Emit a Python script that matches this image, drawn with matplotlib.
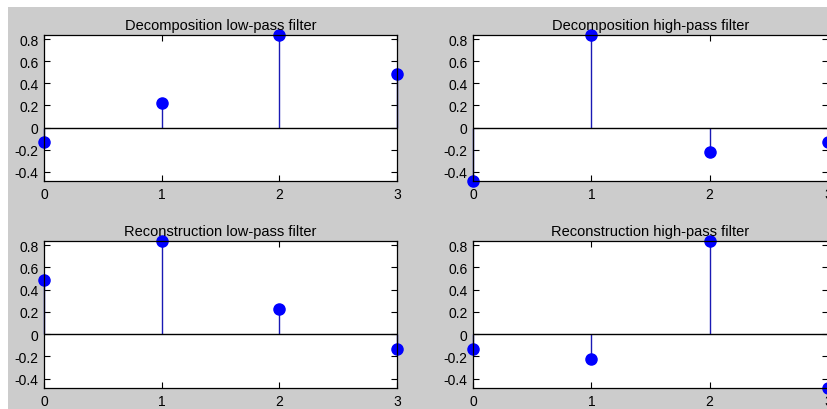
import matplotlib.pyplot as plt
from matplotlib.patches import Rectangle

plt.rcParams['font.family'] = ['Liberation Sans', 'DejaVu Sans']
plt.rcParams['axes.unicode_minus'] = False

# db2 wavelet filters
n = [0, 1, 2, 3]
lo_d = [-0.1294, 0.2241, 0.8365, 0.4830]
hi_d = [-0.4830, 0.8365, -0.2241, -0.1294]
lo_r = [0.4830, 0.8365, 0.2241, -0.1294]
hi_r = [-0.1294, -0.2241, 0.8365, -0.4830]

titles = ['Decomposition low-pass filter', 'Decomposition high-pass filter',
          'Reconstruction low-pass filter', 'Reconstruction high-pass filter']
yticks = [-0.4, -0.2, 0, 0.2, 0.4, 0.6, 0.8]
ytick_labels = ['-0.4', '-0.2', '0', '0.2', '0.4', '0.6', '0.8']

fig = plt.figure(figsize=(8.27, 4.10), dpi=100)
fig.patch.set_facecolor('white')
fig.add_artist(Rectangle((8 / 827, 0), 1, 1 - 8 / 410, transform=fig.transFigure,
                         facecolor='#cccccc', edgecolor='none', zorder=-10))

W, H = 827, 410
boxes = [(44, 36, 397, 182), (473, 36, 828, 182),
         (44, 242, 397, 389), (473, 242, 828, 389)]
series = [lo_d, hi_d, lo_r, hi_r]

for (x0, y0, x1, y1), vals, title in zip(boxes, series, titles):
    ax = fig.add_axes([x0 / W, 1 - y1 / H, (x1 - x0) / W, (y1 - y0) / H])
    ax.set_facecolor('white')
    markerline, stemlines, baseline = ax.stem(n, vals)
    markerline.set_color('#0000ff')
    markerline.set_markersize(8)
    markerline.set_clip_on(False)
    stemlines.set_color('#1a1ab4')
    stemlines.set_linewidth(1)
    stemlines.set_clip_on(False)
    baseline.set_color('black')
    baseline.set_linewidth(1)
    ax.set_xlim(0, 3)
    ax.set_ylim(-0.483, 0.8365)
    ax.set_xticks(n)
    ax.set_xticklabels([str(i) for i in n])
    ax.set_yticks(yticks)
    ax.set_yticklabels(ytick_labels)
    ax.tick_params(direction='in', length=4, width=0.8, top=True, right=True,
                   labelsize=10, pad=4, colors='black')
    for s in ax.spines.values():
        s.set_linewidth(0.9)
    ax.set_title(title, fontsize=10.5, pad=4)

fig.savefig('out.png', dpi=100, facecolor=fig.get_facecolor())
